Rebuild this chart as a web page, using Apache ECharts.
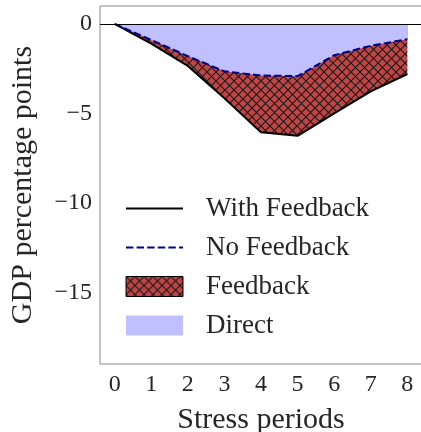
<!DOCTYPE html>
<html>
<head>
<meta charset="utf-8">
<title>GDP impact over stress periods</title>
<script src="https://cdn.jsdelivr.net/npm/echarts@6/dist/echarts.min.js"></script>
<style>
  html, body { margin: 0; padding: 0; background: #ffffff; }
  #chart { width: 421px; height: 432px; }
</style>
</head>
<body>
<div id="chart"></div>
<script>
// Stress periods on the x axis
const periods = [0, 1, 2, 3, 4, 5, 6, 7, 8];
// GDP deviation (percentage points) including feedback effects
const withFeedback = [0, -1.1, -2.35, -4.15, -6.05, -6.25, -5.0, -3.77, -2.8];
// GDP deviation (percentage points) from direct effects only
const noFeedback = [0, -0.9, -1.8, -2.65, -2.88, -2.92, -1.75, -1.22, -0.86];
// Tick values
const xTicks = [0, 1, 2, 3, 4, 5, 6, 7, 8];
const yTicks = [-15, -10, -5, 0];

const FONT = '"Liberation Serif", "DejaVu Serif", serif';
const TEXT = '#262626';
const RED = '#c04545';
const BLUE_FILL = '#c0c0ff';

// Cross-hatch tile for the feedback area
function makeHatch(size) {
  const c = document.createElement('canvas');
  c.width = size; c.height = size;
  const g = c.getContext('2d');
  g.fillStyle = RED;
  g.fillRect(0, 0, size, size);
  g.strokeStyle = '#1a1a1a';
  g.lineWidth = 1.1;
  g.beginPath();
  g.moveTo(-1, -1); g.lineTo(size + 1, size + 1);
  g.moveTo(size + 1, -1); g.lineTo(-1, size + 1);
  g.stroke();
  return c;
}
const hatch = { image: makeHatch(9), repeat: 'repeat' };

const pairs = (ys) => periods.map((x, i) => [x, ys[i]]);
const minusFmt = (v) => (v < 0 ? '\u2212' + Math.abs(v) : String(v));

const chart = echarts.init(document.getElementById('chart'), null, { renderer: 'canvas' });
chart.setOption({
  animation: false,
  backgroundColor: '#ffffff',
  grid: {
    left: 100, top: 6, right: -1, bottom: 68,
    outerBoundsMode: 'none', containLabel: false,
    show: true, borderColor: '#8a8a8a', borderWidth: 1, backgroundColor: 'transparent'
  },
  xAxis: {
    type: 'value', min: -0.4, max: 8.4,
    name: 'Stress periods', nameLocation: 'middle', nameGap: 41,
    nameTextStyle: { fontFamily: FONT, fontSize: 30, color: TEXT },
    axisLine: { show: false }, axisTick: { show: false }, splitLine: { show: false },
    axisLabel: {
      customValues: xTicks, margin: 9,
      fontFamily: FONT, fontSize: 24, color: TEXT, formatter: minusFmt
    }
  },
  yAxis: {
    type: 'value', min: -19, max: 1,
    name: 'GDP percentage points', nameLocation: 'middle', nameGap: 62, nameRotate: 90,
    nameTextStyle: { fontFamily: FONT, fontSize: 30, color: TEXT },
    axisLine: { show: false }, axisTick: { show: false }, splitLine: { show: false },
    axisLabel: {
      customValues: yTicks, margin: 8,
      fontFamily: FONT, fontSize: 24, color: TEXT, formatter: minusFmt
    }
  },
  legend: {
    orient: 'vertical', left: 120, top: 190,
    itemWidth: 57, itemHeight: 20, itemGap: 12,
    textStyle: { fontFamily: FONT, fontSize: 27, color: TEXT, padding: [0, 0, 0, 18] },
    data: [
      { name: 'With Feedback', itemStyle: { opacity: 0 } },
      { name: 'No Feedback', itemStyle: { opacity: 0 } },
      { name: 'Feedback', icon: 'rect', itemStyle: { color: hatch, borderColor: '#000', borderWidth: 1 } },
      { name: 'Direct', icon: 'rect', itemStyle: { color: BLUE_FILL, borderWidth: 0 } }
    ]
  },
  series: [
    {
      name: 'Feedback', type: 'line', data: pairs(withFeedback), symbol: 'none', z: 1,
      itemStyle: { color: RED },
      lineStyle: { width: 0 },
      areaStyle: { color: hatch, opacity: 1 }
    },
    {
      name: 'Direct', type: 'line', data: pairs(noFeedback), symbol: 'none', z: 2,
      itemStyle: { color: BLUE_FILL },
      lineStyle: { width: 0 },
      areaStyle: { color: BLUE_FILL, opacity: 1 }
    },
    {
      name: 'With Feedback', type: 'line', data: pairs(withFeedback), symbol: 'none', z: 3,
      itemStyle: { color: '#000000' },
      lineStyle: { color: '#000000', width: 2 },
      markLine: {
        silent: true, symbol: 'none', label: { show: false },
        lineStyle: { color: '#000000', width: 1, type: 'solid' },
        data: [{ yAxis: 0 }]
      }
    },
    {
      name: 'No Feedback', type: 'line', data: pairs(noFeedback), symbol: 'none', z: 4,
      itemStyle: { color: '#00008b' },
      lineStyle: { color: '#00008b', width: 2, type: [7.4, 3.2] }
    }
  ]
});
</script>
</body>
</html>
